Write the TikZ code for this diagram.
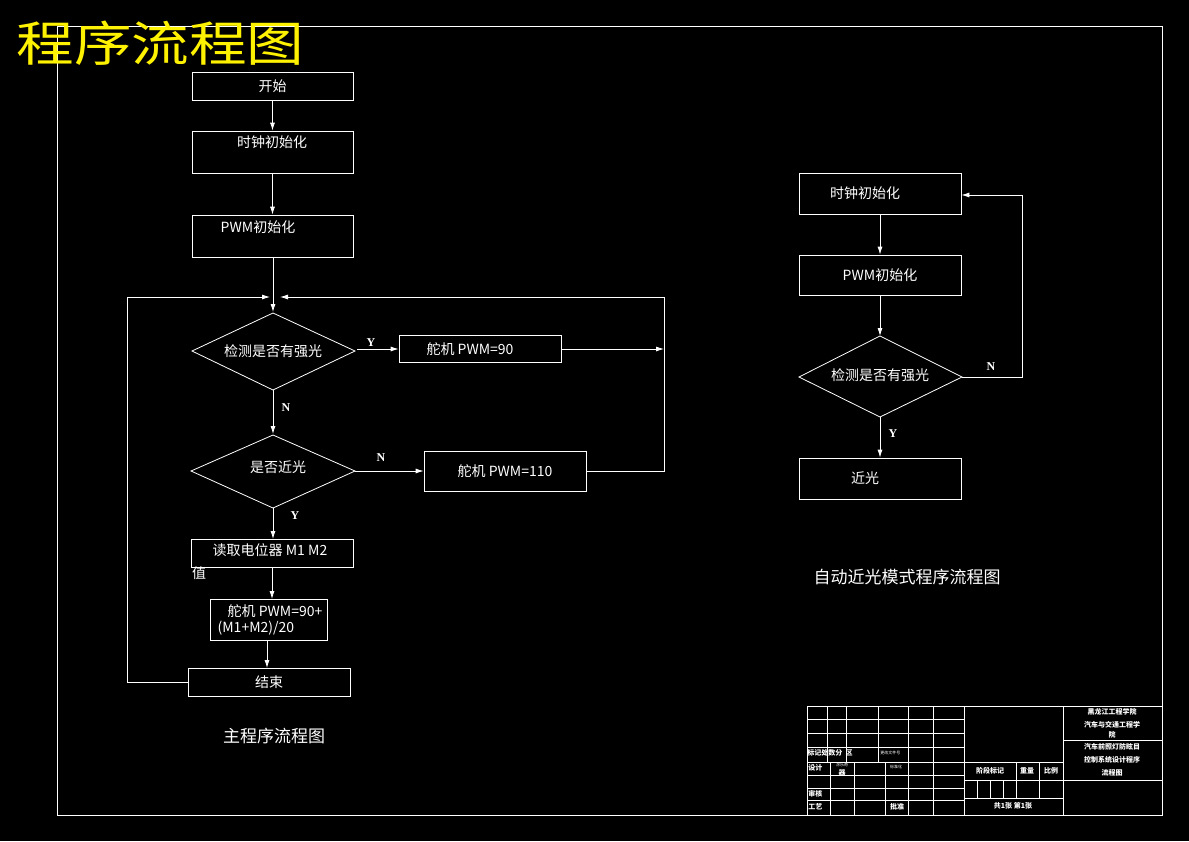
\documentclass[tikz,border=0pt]{standalone}
\usepackage{fontspec}
\setmainfont{Liberation Serif}
\newfontfamily\cjk{Noto Sans CJK SC}
\usetikzlibrary{arrows.meta}
\begin{document}
\begin{tikzpicture}[x=1pt,y=-1pt,line width=0.8pt,white,
  box/.style={draw=white,minimum width=#1,inner sep=0pt,font=\cjk\fontsize{14}{16}\selectfont,text=white},
  lbl/.style={font=\cjk\fontsize{14}{16}\selectfont,text=white,inner sep=0pt},
  yn/.style={font=\bfseries\fontsize{12}{14}\selectfont,text=white,inner sep=0pt},
  arr/.style={draw=white,-{Latex[length=8pt,width=5pt]}},
  tb/.style={font=\cjk\bfseries\fontsize{7}{8}\selectfont,text=white,inner sep=0pt},
  tbs/.style={font=\cjk\fontsize{4}{5}\selectfont,text=white,inner sep=0pt}]
\fill[black] (0,0) rectangle (1189,841);
\useasboundingbox (0,0) rectangle (1189,841);
\draw (57,26) rectangle (1162,815);
\node[anchor=west,text=yellow,font=\cjk\fontsize{48}{50}\selectfont,inner sep=0pt,xscale=1.2] (title) at (16,43) {程序流程图};
% main chart
\node[box=161pt,minimum height=28pt] (start) at (272.5,86) {开始};
\node[box=161pt,minimum height=42pt] (clk) at (272.5,152) {};
\node[lbl] (clkt) at (272,142) {时钟初始化};
\node[box=161pt,minimum height=42pt] (pwm) at (272.5,236) {};
\node[lbl] (pwmt) at (258,227) {PWM初始化};
\coordinate (m) at (272,297);
\draw[arr] (start) -- (clk);
\draw[arr] (clk) -- (pwm);
\draw (192,351) -- (273,313) -- (355,351) -- (273,390) -- cycle;
\node[lbl] (d1) at (273,351) {检测是否有强光};
\draw[arr] (273,257) -- (273,312);
\node[box=162pt,minimum height=27pt] (s90) at (480,349) {\hspace{-20pt}舵机 PWM=90};
\draw[arr] (357,349) -- (s90.west);
\node[yn] at (371,343) {Y};
\coordinate (r1) at (664,349);
\draw[arr] (s90.east) -- (r1);
\draw (586,471) -- (664,471) -- (664,297);
\draw[arr] (664,297) -- (280,297);
\node[yn] at (286,408) {N};
\draw[arr] (273,390) -- (273,434);
\draw (191,471) -- (273,435) -- (355,471) -- (273,508) -- cycle;
\node[lbl] (d2) at (278,467) {是否近光};
\node[box=162pt,minimum height=40pt] (s110) at (505,471) {舵机 PWM=110};
\draw[arr] (355,471) -- (s110.west);
\node[yn] at (381,458) {N};
\node[yn] at (295,516) {Y};
\node[box=162pt,minimum height=28pt] (read) at (272,553) {};
\node[lbl] at (270,550) {读取电位器 M1 M2};
\node[lbl] at (199,573) {值};
\draw[arr] (273,508) -- (273,539);
\node[box=117pt,minimum height=41pt] (calc) at (268.5,619.5) {};
\node[lbl,align=left] at (270,620) {\hspace{10pt}舵机 PWM=90+\\(M1+M2)/20};
\draw[arr] (272,567) -- (272,599);
\node[box=162pt,minimum height=28pt] (end) at (269,682) {结束};
\draw[arr] (267,640) -- (267,668);
\draw (end.west) -- (127,682) -- (127,297);
\draw[arr] (127,297) -- (270,297);
\node[lbl,font=\cjk\fontsize{17}{19}\selectfont] at (274,736) {主程序流程图};
% right chart
\node[box=162pt,minimum height=41pt] (c2) at (880,193.5) {\hspace{-30pt}时钟初始化};
\node[box=162pt,minimum height=40pt] (p2) at (880,275) {PWM初始化};
\draw[arr] (c2) -- (p2);
\draw (799,377) -- (880,336) -- (962,377) -- (880,417) -- cycle;
\node[lbl] (d3) at (880,375) {检测是否有强光};
\draw[arr] (p2) -- (880,336);
\node[box=162pt,minimum height=41pt] (near) at (880,478.5) {\hspace{-30pt}近光};
\draw[arr] (880,417) -- (near);
\node[yn] at (893,434) {Y};
\node[yn] at (991,367) {N};
\draw (962,377) -- (1022,377) -- (1022,195);
\draw[arr] (1022,195) -- (c2.east |- 0,195);
\node[lbl,font=\cjk\fontsize{17}{19}\selectfont] at (907,577) {自动近光模式程序流程图};
% title block
\draw (807,706) rectangle (1162,815);
\foreach \y in {719,733,747,762,775,788,800} \draw (807,\y) -- (964,\y);
\foreach \x in {827,846,878,908,933} \draw (\x,706) -- (\x,762);
\foreach \x in {830,854,885,908,933} \draw (\x,762) -- (\x,815);
\draw (964,706) -- (964,815);
\draw (1063,706) -- (1063,815);
\draw (964,780) -- (1162,780);
\draw (964,798) -- (1063,798);
\draw (1063,740) -- (1162,740);
\draw (964,762) -- (1063,762);
\foreach \x in {977,990,1003,1016,1039} \draw (\x,780) -- (\x,798);
\draw (1016,762) -- (1016,780); \draw (1039,762) -- (1039,780);
\node[tb] at (1112,712) {黑龙江工程学院};
\node[tb] at (1112,725) {汽车与交通工程学};
\node[tb] at (1112,735) {院};
\node[tb] at (1112,747) {汽车前照灯防眩目};
\node[tb] at (1112,760) {控制系统设计程序};
\node[tb] at (1112,773) {流程图};
\node[tb,anchor=west] at (807,753) {标记处数分\ \ 区};
\node[tbs,anchor=west] at (880,753) {更改文件号};
\node[tb,anchor=west] at (808,768) {设计};
\node[tbs] at (842,765) {涂乐奇};
\node[tb] at (842,773) {器};
\node[tbs] at (896,767) {标准化};
\node[tb,anchor=west] at (808,794) {审核};
\node[tb,anchor=west] at (808,807) {工艺};
\node[tb] at (897,807) {批准};
\node[tb] at (990,771) {阶段标记};
\node[tb] at (1027,771) {重量};
\node[tb] at (1051,771) {比例};
\node[tb] at (1013,806) {共1张 第1张};
\end{tikzpicture}
\end{document}
